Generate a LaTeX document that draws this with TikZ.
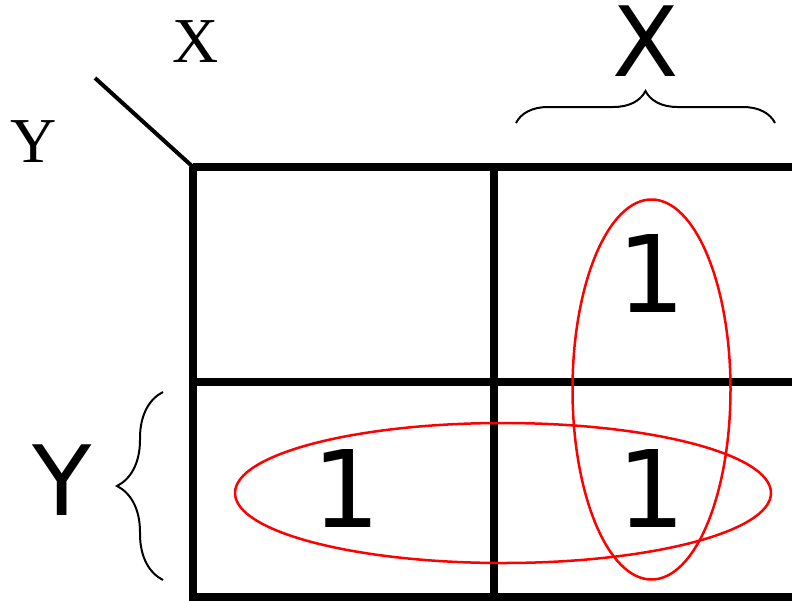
\documentclass[tikz,border=0pt]{standalone}
\usepackage{fontspec}
\setmainfont{Liberation Serif}
\newfontfamily\bigsans{DejaVu Sans}
\usetikzlibrary{decorations.pathreplacing}
\begin{document}
\begin{tikzpicture}[x=1pt,y=-1pt,
    gridline/.style={line width=8pt},
    loop/.style={draw=red,line width=2.5pt},
    curly/.style={line width=2pt,decorate,decoration={brace,amplitude=#1}},
    serifvar/.style={inner sep=0pt,font=\fontsize{64}{64}\selectfont},
    sansvar/.style={inner sep=0pt,font=\bigsans\fontsize{97}{97}\selectfont},
    one/.style={inner sep=0pt,font=\bigsans\fontsize{107}{107}\selectfont}]
        \useasboundingbox (0,0) rectangle (792,600);
        \clip (0,0) rectangle (792,600);
        % corner labels
        \node[serifvar] (xsmall) at (196,42) {X};
        \node[serifvar] (ysmall) at (34,142) {Y};
        \draw[line width=4pt] (95,78) -- (193,167);
        % grid
        \draw[gridline] (193,167) -- (800,167);
        \draw[gridline] (193,167) -- (193,597) -- (800,597);
        \draw[gridline] (494,167) -- (494,597);
        \draw[gridline] (193,382) -- (800,382);
        % braces
        \draw[curly=32pt] (516,123) -- (775,123);
        \node[sansvar] (xbig) at (646,41) {X};
        \draw[curly=46pt] (163,580) -- (163,392);
        \node[sansvar] (ybig) at (62,480) {Y};
        % entries
        \node[one] (oneA) at (652,273) {1};
        \node[one] (oneB) at (652,488) {1};
        \node[one] (oneC) at (347,488) {1};
        % groups
        \draw[loop] (651.5,389.5) ellipse (79 and 190);
        \draw[loop] (503,493) ellipse (268 and 70);
\end{tikzpicture}
\end{document}
